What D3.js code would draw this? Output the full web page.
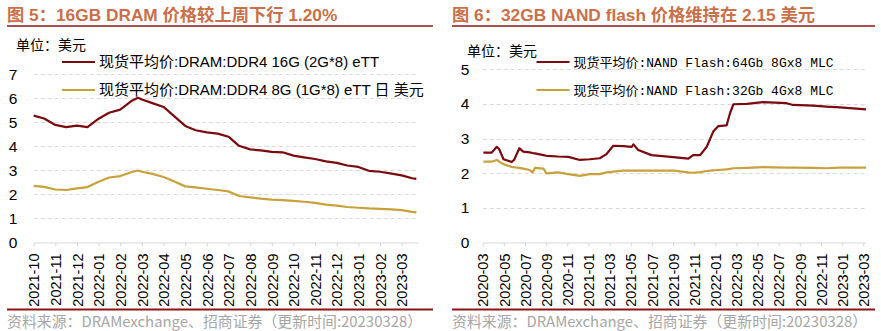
<!DOCTYPE html>
<html>
<head>
<meta charset="utf-8">
<script src="https://cdn.jsdelivr.net/npm/d3@7"></script>
<style>
  body { margin: 0; background: #fff; }
  svg { display: block; }
</style>
</head>
<body>
<svg id="chart" width="881" height="331"></svg>
<script>
// DRAM spot prices, semi-monthly readings (USD)
const dramDates = [
  "2021-10-01", "2021-10-16", "2021-11-01", "2021-11-16", "2021-12-01", "2021-12-16",
  "2022-01-01", "2022-01-16", "2022-02-01", "2022-02-16", "2022-02-24", "2022-03-01",
  "2022-03-16", "2022-04-01", "2022-04-16", "2022-05-01", "2022-05-16", "2022-06-01",
  "2022-06-16", "2022-07-01", "2022-07-16", "2022-08-01", "2022-08-16", "2022-09-01",
  "2022-09-16", "2022-10-01", "2022-10-16", "2022-11-01", "2022-11-16", "2022-12-01",
  "2022-12-16", "2023-01-01", "2023-01-16", "2023-02-01", "2023-02-16", "2023-03-01",
  "2023-03-16", "2023-03-22"
];
const ddr4_16g = [
  5.28, 5.16, 4.89, 4.80, 4.86, 4.80, 5.15, 5.40, 5.53, 5.90, 6.02, 5.95,
  5.80, 5.64, 5.25, 4.85, 4.67, 4.58, 4.53, 4.40, 4.02, 3.87, 3.83, 3.77,
  3.75, 3.61, 3.54, 3.47, 3.37, 3.31, 3.20, 3.14, 2.98, 2.94, 2.86, 2.79,
  2.67, 2.64
];
const ddr4_8g = [
  2.35, 2.31, 2.20, 2.18, 2.25, 2.30, 2.52, 2.70, 2.76, 2.93, 2.99, 2.94,
  2.85, 2.72, 2.53, 2.33, 2.29, 2.23, 2.18, 2.12, 1.93, 1.87, 1.82, 1.78,
  1.76, 1.73, 1.69, 1.64, 1.57, 1.53, 1.47, 1.44, 1.41, 1.39, 1.37, 1.34,
  1.27, 1.25
];
const dramTicks = [
  "2021-10", "2021-11", "2021-12", "2022-01", "2022-02", "2022-03", "2022-04",
  "2022-05", "2022-06", "2022-07", "2022-08", "2022-09", "2022-10", "2022-11",
  "2022-12", "2023-01", "2023-02", "2023-03"
];

// NAND flash spot prices (USD)
const nandDates = [
  "2020-03-03", "2020-03-27", "2020-04-11", "2020-04-18", "2020-04-30", "2020-05-24",
  "2020-05-31", "2020-06-15", "2020-06-26", "2020-07-15", "2020-07-23", "2020-07-30",
  "2020-08-24", "2020-09-02", "2020-10-05", "2020-11-04", "2020-12-07", "2021-01-05",
  "2021-02-03", "2021-02-21", "2021-03-12", "2021-04-10", "2021-05-04", "2021-05-09",
  "2021-05-23", "2021-06-30", "2021-09-02", "2021-10-15", "2021-10-29", "2021-11-18",
  "2021-12-07", "2021-12-26", "2022-01-10", "2022-02-03", "2022-02-12", "2022-02-21",
  "2022-03-31", "2022-05-17", "2022-07-24", "2022-08-12", "2022-10-09", "2022-11-17",
  "2022-12-26", "2023-03-09"
];
const mlc_64gb = [
  2.59, 2.59, 2.76, 2.69, 2.40, 2.32, 2.38, 2.72, 2.62, 2.60, 2.58, 2.57,
  2.52, 2.50, 2.48, 2.47, 2.38, 2.40, 2.43, 2.55, 2.79, 2.78, 2.76, 2.83,
  2.67, 2.52, 2.46, 2.42, 2.52, 2.52, 2.76, 3.20, 3.36, 3.38, 3.73, 3.99,
  4.00, 4.05, 4.02, 3.97, 3.95, 3.92, 3.90, 3.84
];
const mlc_32gb = [
  2.33, 2.33, 2.38, 2.33, 2.26, 2.18, 2.17, 2.15, 2.13, 2.09, 2.02, 2.15,
  2.13, 1.99, 2.02, 1.97, 1.92, 1.97, 1.97, 2.02, 2.04, 2.07, 2.07, 2.07,
  2.07, 2.07, 2.07, 2.02, 2.01, 2.03, 2.06, 2.08, 2.09, 2.11, 2.12, 2.14,
  2.15, 2.17, 2.16, 2.16, 2.15, 2.14, 2.16, 2.16
];
const nandTicks = [
  "2020-03", "2020-05", "2020-07", "2020-09", "2020-11", "2021-01", "2021-03",
  "2021-05", "2021-07", "2021-09", "2021-11", "2022-01", "2022-03", "2022-05",
  "2022-07", "2022-09", "2022-11", "2023-01", "2023-03"
];

const RED = "#7a0a0e";
const GOLD = "#c9a13c";
const TITLE = "#c8704a";
const RULE = "#8c1414";
const SANS = "'Liberation Sans', Arial, 'Noto Sans CJK SC', sans-serif";
const CJK = "'Noto Sans CJK SC', 'Liberation Sans', sans-serif";
const MONO = "'Liberation Mono', 'Noto Sans CJK SC', monospace";

const svg = d3.select("#chart");

// fractional month count since a "YYYY-MM" origin
function monthIndex(str, origin) {
  const [y, m, d] = str.split("-").map(Number);
  const [y0, m0] = origin.split("-").map(Number);
  const days = new Date(y, m, 0).getDate();
  return (y - y0) * 12 + (m - m0) + ((d || 1) - 1) / days;
}

function drawPanel(cfg) {
  const g = svg.append("g");

  // title + rules
  g.append("text")
    .attr("x", cfg.left).attr("y", 21)
    .attr("fill", TITLE)
    .style("font", "bold 17.3px " + SANS)
    .text(cfg.title);
  g.append("line")
    .attr("x1", cfg.left).attr("x2", cfg.right)
    .attr("y1", 26).attr("y2", 26)
    .attr("stroke", RULE).attr("stroke-width", 1.6);
  g.append("line")
    .attr("x1", cfg.left).attr("x2", cfg.right)
    .attr("y1", 309.5).attr("y2", 309.5)
    .attr("stroke", RULE).attr("stroke-width", 2);
  g.append("text")
    .attr("x", cfg.left).attr("y", 327)
    .attr("fill", "#a6a6a6")
    .style("font", "14.9px " + CJK)
    .text("资料来源：DRAMexchange、招商证券（更新时间:20230328）");

  const x = d3.scaleLinear().domain(cfg.xDomain).range(cfg.xRange);
  const y = d3.scaleLinear().domain([0, cfg.yMax]).range([242.3, cfg.yTop]);

  // dashed gridlines
  const yTicks = d3.range(1, cfg.yMax + 1);
  g.append("g").selectAll("line")
    .data(yTicks)
    .join("line")
    .attr("x1", cfg.xRange[0]).attr("x2", cfg.gridEnd)
    .attr("y1", d => Math.round(y(d)) + 0.5).attr("y2", d => Math.round(y(d)) + 0.5)
    .attr("stroke", "#d9d9d9")
    .attr("stroke-dasharray", "4,3");

  // y labels
  g.append("g").selectAll("text")
    .data(d3.range(0, cfg.yMax + 1))
    .join("text")
    .attr("x", cfg.yLabelX).attr("y", d => y(d) + 5.5)
    .attr("text-anchor", "middle")
    .style("font", "15.5px " + SANS)
    .text(d => d);

  // x axis
  const tickVals = cfg.ticks.map(t => monthIndex(t, cfg.origin));
  const axis = g.append("g")
    .attr("transform", "translate(0," + (Math.round(y(0)) + 0.5) + ")")
    .call(d3.axisBottom(x).tickValues(tickVals).tickSize(4).tickSizeOuter(0)
      .tickFormat((d, i) => cfg.ticks[i]));
  axis.select(".domain").attr("stroke", "#d9d9d9");
  axis.selectAll(".tick line").attr("stroke", "#d9d9d9");
  axis.selectAll(".tick text")
    .attr("transform", "rotate(-90)")
    .attr("text-anchor", "end")
    .attr("x", -11).attr("y", 0).attr("dy", "0.36em")
    .attr("fill", "#000")
    .style("font", "14.5px " + SANS);

  // series
  const line = d3.line()
    .x(d => x(d[0]))
    .y(d => y(d[1]));
  cfg.series.forEach(s => {
    const pts = cfg.dates.map((dt, i) => [monthIndex(dt, cfg.origin), s.values[i]]);
    g.append("path")
      .datum(pts)
      .attr("fill", "none")
      .attr("stroke", s.color)
      .attr("stroke-width", 2.2)
      .attr("stroke-linejoin", "round")
      .attr("d", line);
  });

  // unit + legend
  g.append("text")
    .attr("x", cfg.unitX).attr("y", cfg.unitY)
    .style("font", "14px " + CJK)
    .text("单位：美元");
  cfg.series.forEach((s, i) => {
    const ly = 62 + i * 28;
    g.append("line")
      .attr("x1", cfg.legendX).attr("x2", cfg.legendX + 33)
      .attr("y1", ly).attr("y2", ly)
      .attr("stroke", s.color).attr("stroke-width", 2.2);
    g.append("text")
      .attr("x", cfg.legendX + 37).attr("y", ly + 5)
      .style("font", cfg.legendFont)
      .text(s.name);
  });
}

drawPanel({
  title: "图 5：16GB DRAM 价格较上周下行 1.20%",
  left: 7, right: 433,
  origin: "2021-10",
  xDomain: [0, 17.74], xRange: [33.7, 417.7], gridEnd: 416,
  yMax: 7, yTop: 74.3, yLabelX: 13,
  ticks: dramTicks, dates: dramDates,
  unitX: 16, unitY: 50,
  legendX: 62,
  legendFont: "15px " + SANS,
  series: [
    { name: "现货平均价:DRAM:DDR4 16G (2G*8) eTT", color: RED, values: ddr4_16g },
    { name: "现货平均价:DRAM:DDR4 8G (1G*8) eTT 日 美元", color: GOLD, values: ddr4_8g }
  ]
});

drawPanel({
  title: "图 6：32GB NAND flash 价格维持在 2.15 美元",
  left: 452, right: 875,
  origin: "2020-03",
  xDomain: [0, 36.2], xRange: [482.7, 865.4], gridEnd: 866,
  yMax: 5, yTop: 69.3, yLabelX: 465,
  ticks: nandTicks, dates: nandDates,
  unitX: 467, unitY: 56,
  legendX: 536.5,
  legendFont: "13px " + MONO,
  series: [
    { name: "现货平均价:NAND Flash:64Gb 8Gx8 MLC", color: RED, values: mlc_64gb },
    { name: "现货平均价:NAND Flash:32Gb 4Gx8 MLC", color: GOLD, values: mlc_32gb }
  ]
});
</script>
</body>
</html>
